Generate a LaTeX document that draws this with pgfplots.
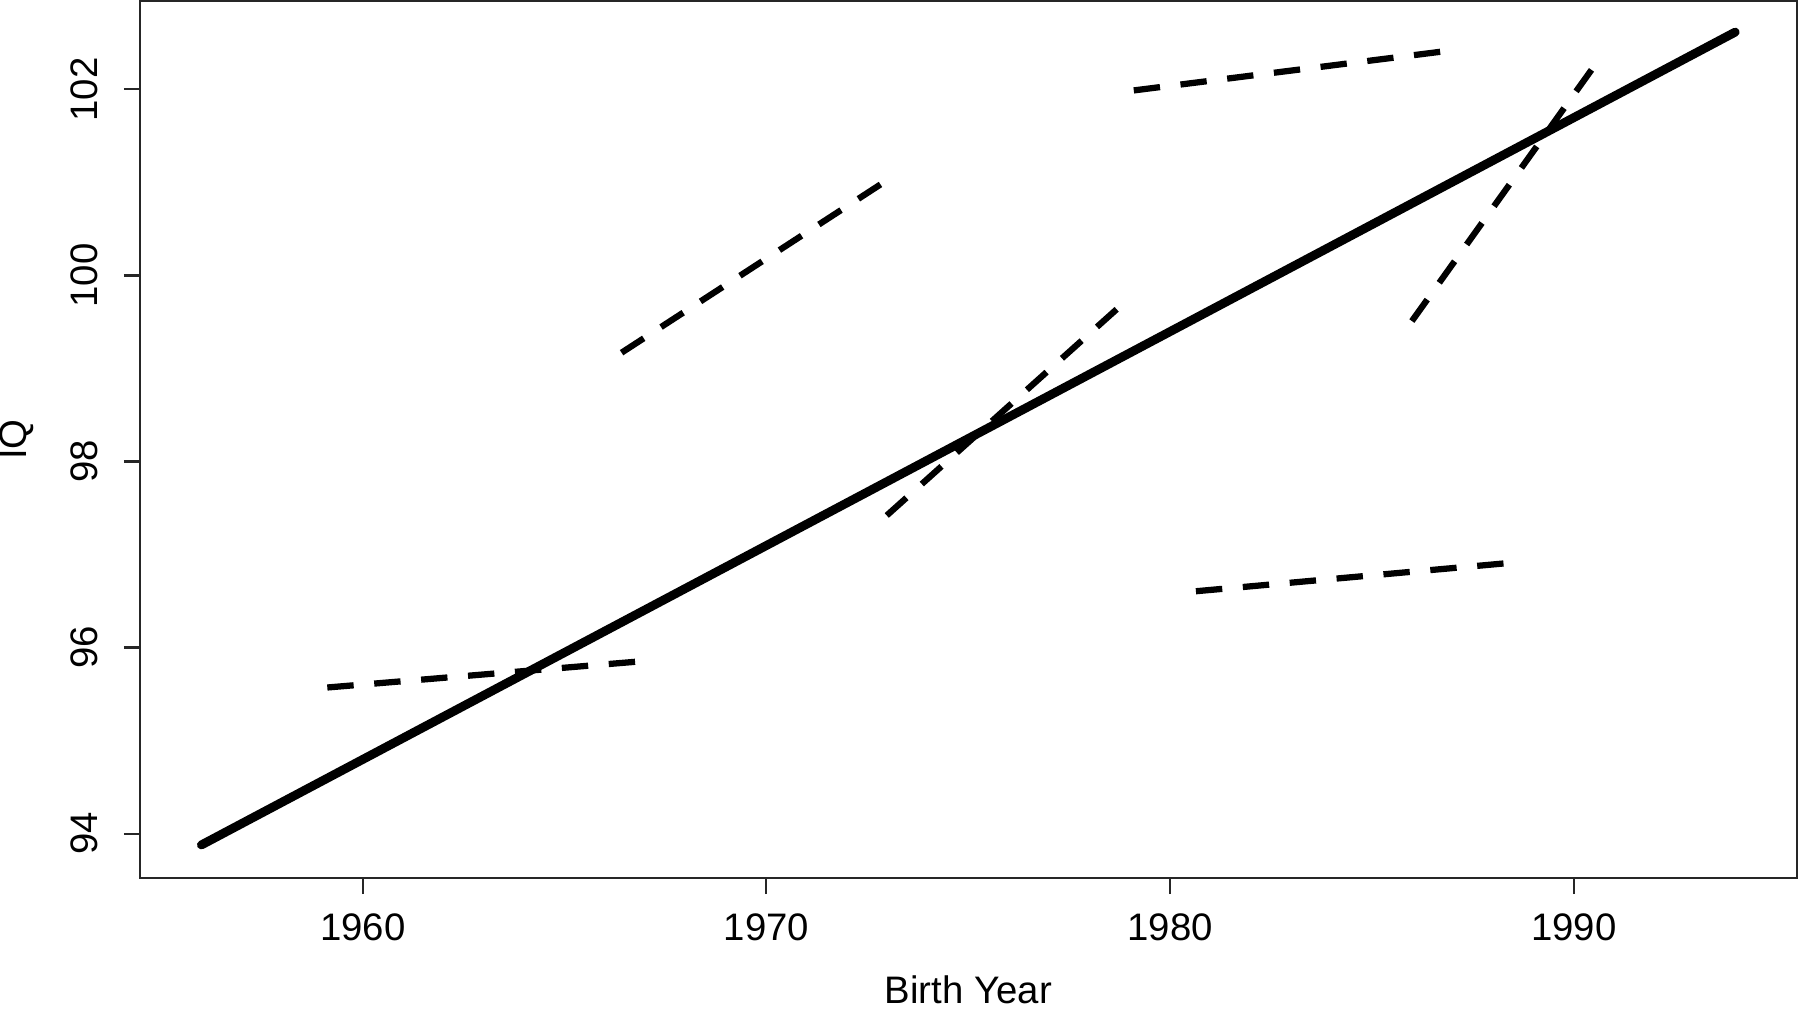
\documentclass[border=0pt]{standalone}
\usepackage{fontspec}
\setmainfont{Liberation Sans}
\usepackage{pgfplots}
\pgfplotsset{compat=1.18}

\begin{document}
\begin{tikzpicture}
\begin{axis}[
    scale only axis,
    width=14.43cm, height=7.64cm,
    xmin=1954.48, xmax=1995.52,
    ymin=93.52, ymax=102.95,
    xtick={1960,1970,1980,1990},
    ytick={94,96,98,100,102},
    tick pos=left,
    tick align=outside,
    major tick length=0.14cm,
    axis line style={black!85, line width=0.5pt},
    every tick/.style={black!85, line width=0.5pt},
    font=\fontsize{9.5}{11.4}\selectfont,
    /pgf/number format/assume math mode=true,
    /pgf/number format/1000 sep={},
    xticklabel style={yshift=-0.05cm},
    yticklabel style={rotate=90, anchor=south, yshift=0.1cm},
    xlabel={Birth Year},
    ylabel={IQ},
    x label style={at={(axis description cs:0.5,0)}, anchor=base, yshift=-1.09cm},
    y label style={at={(axis description cs:-0.0742,0.5)}, anchor=center},
]
% overall trend
\addplot[black, line width=2.2pt, line cap=round] coordinates {(1956,93.877) (1994,102.617)};

% within-cohort slopes
\addplot[black, line width=1.55pt, dash pattern=on 0.23cm off 0.18cm] coordinates {(1959.12,95.57) (1966.85,95.85)};
\addplot[black, line width=1.55pt, dash pattern=on 0.23cm off 0.18cm] coordinates {(1966.41,99.17) (1972.97,101.02)};
\addplot[black, line width=1.55pt, dash pattern=on 0.23cm off 0.18cm] coordinates {(1972.98,97.42) (1978.71,99.65)};
\addplot[black, line width=1.55pt, dash pattern=on 0.23cm off 0.18cm] coordinates {(1979.10,101.99) (1986.78,102.41)};
\addplot[black, line width=1.55pt, dash pattern=on 0.23cm off 0.18cm] coordinates {(1980.64,96.605) (1988.43,96.91)};
\addplot[black, line width=1.55pt, dash pattern=on 0.23cm off 0.18cm] coordinates {(1985.99,99.51) (1990.52,102.26)};

\coordinate (bl) at (rel axis cs:0,0);
\coordinate (tr) at (rel axis cs:1,1);
\end{axis}
\pgfresetboundingbox
\path[use as bounding box] ([shift={(-1.22cm,-1.14cm)}]bl) rectangle ([shift={(0.03cm,0.01cm)}]tr);
\end{tikzpicture}
\end{document}
